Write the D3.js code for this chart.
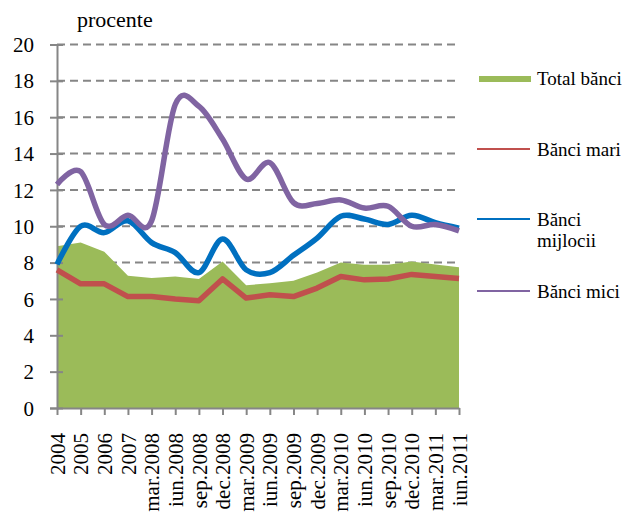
<!DOCTYPE html>
<html>
<head>
<meta charset="utf-8">
<script src="https://cdn.jsdelivr.net/npm/d3@7"></script>
<style>
	body { margin: 0; background: #fff; }
</style>
</head>
<body>
<div id="chart"></div>
<script>
let categories = ['2004', '2005', '2006', '2007', 'mar.2008', 'iun.2008', 'sep.2008', 'dec.2008',
	'mar.2009', 'iun.2009', 'sep.2009', 'dec.2009', 'mar.2010', 'iun.2010', 'sep.2010', 'dec.2010',
	'mar.2011', 'iun.2011'];

let totalBanci = [8.9, 9.1, 8.6, 7.27, 7.15, 7.23, 7.1, 8.06, 6.75, 6.87, 7.0, 7.45, 8.0, 7.88, 7.88, 8.06, 7.9, 7.75];
let banciMari = [7.6, 6.83, 6.83, 6.13, 6.13, 6.0, 5.9, 7.1, 6.05, 6.23, 6.13, 6.6, 7.23, 7.05, 7.1, 7.35, 7.23, 7.12];
let banciMijlocii = [7.9, 10.0, 9.65, 10.3, 9.1, 8.55, 7.45, 9.3, 7.6, 7.45, 8.4, 9.35, 10.55, 10.4, 10.1, 10.6, 10.2, 9.9];
let banciMici = [12.3, 13.0, 10.1, 10.6, 10.3, 16.7, 16.6, 14.8, 12.6, 13.5, 11.3, 11.25, 11.45, 11.0, 11.1, 10.0, 10.1, 9.75];

let yTicks = [0, 2, 4, 6, 8, 10, 12, 14, 16, 18, 20];

let series = [
	{ name: 'Bănci mari', values: banciMari, color: '#C0504D', smooth: false },
	{ name: 'Bănci mijlocii', values: banciMijlocii, color: '#0070C0', smooth: true },
	{ name: 'Bănci mici', values: banciMici, color: '#8064A2', smooth: true }
];

let width = 625;
let height = 515;
let plot = { left: 57, right: 459, top: 44.5, bottom: 408 };
let axisColor = '#868686';
let serif = '"Liberation Serif"';

let svg = d3.select('#chart').append('svg')
	.attr('width', width)
	.attr('height', height);

let x = d3.scalePoint()
	.domain(categories)
	.range([plot.left, plot.right]);

let y = d3.scaleLinear()
	.domain([0, 20])
	.range([plot.bottom, plot.top]);

// grid lines (behind the area)
svg.append('g')
	.selectAll('line')
	.data(yTicks.filter(d => d > 0))
	.enter()
	.append('line')
	.attr('x1', plot.left)
	.attr('x2', plot.right)
	.attr('y1', d => y(d))
	.attr('y2', d => y(d))
	.attr('stroke', axisColor)
	.attr('stroke-width', 2)
	.attr('stroke-dasharray', '8,5');

// total banci area
let area = d3.area()
	.x((d, i) => x(categories[i]))
	.y0(y(0))
	.y1(d => y(d));

svg.append('path')
	.datum(totalBanci)
	.attr('d', area)
	.attr('fill', '#9BBB59');

// y axis
let yAxis = d3.axisLeft(y)
	.tickValues(yTicks)
	.tickSize(7)
	.tickPadding(16);

let gy = svg.append('g')
	.attr('transform', 'translate(' + plot.left + ',0)')
	.call(yAxis);
gy.select('.domain').attr('stroke', axisColor).attr('stroke-width', 2);
gy.selectAll('.tick line')
	.attr('stroke', axisColor)
	.attr('stroke-width', 2)
	.attr('x1', 6);
gy.selectAll('.tick text')
	.attr('font-size', 21)
	.attr('fill', '#000')
	.attr('dy', '0.34em')
	.style('font-family', serif);

// x axis
let xAxis = d3.axisBottom(x)
	.tickSize(7)
	.tickSizeOuter(0);

let gx = svg.append('g')
	.attr('transform', 'translate(0,' + plot.bottom + ')')
	.call(xAxis);
gx.select('.domain').attr('stroke', axisColor).attr('stroke-width', 2);
gx.selectAll('.tick line').attr('stroke', axisColor).attr('stroke-width', 2);
gx.selectAll('.tick text')
	.attr('font-size', 21)
	.attr('fill', '#000')
	.attr('text-anchor', 'end')
	.attr('transform', 'rotate(-90)')
	.attr('x', -25)
	.attr('y', 0)
	.attr('dy', '0.34em')
	.style('font-family', serif);

// lines
series.forEach(s => {
	let line = d3.line()
		.x((d, i) => x(categories[i]))
		.y(d => y(d))
		.curve(s.smooth ? d3.curveCardinal.tension(0) : d3.curveLinear);

	svg.append('path')
		.datum(s.values)
		.attr('d', line)
		.attr('fill', 'none')
		.attr('stroke', s.color)
		.attr('stroke-width', 5.5)
		.attr('stroke-linejoin', 'round');
});

// unit label
svg.append('text')
	.attr('x', 77)
	.attr('y', 27)
	.attr('font-size', 22)
	.style('font-family', serif)
	.text('procente');

// legend
let legend = svg.append('g').attr('class', 'legend');

legend.append('rect')
	.attr('x', 479)
	.attr('y', 76)
	.attr('width', 52)
	.attr('height', 6)
	.attr('fill', '#9BBB59');
legend.append('text')
	.attr('x', 537)
	.attr('y', 85)
	.attr('font-size', 19)
	.style('font-family', serif)
	.text('Total bănci');

let legendItems = [
	{ y: 149, lines: ['Bănci mari'] },
	{ y: 219, lines: ['Bănci', 'mijlocii'] },
	{ y: 291, lines: ['Bănci mici'] }
];

legendItems.forEach((item, i) => {
	legend.append('line')
		.attr('x1', 477)
		.attr('x2', 530)
		.attr('y1', item.y)
		.attr('y2', item.y)
		.attr('stroke', series[i].color)
		.attr('stroke-width', 2);
	item.lines.forEach((t, j) => {
		legend.append('text')
			.attr('x', 537)
			.attr('y', item.y + 7 + j * 21)
			.attr('font-size', 19)
			.style('font-family', serif)
			.text(t);
	});
});
</script>
</body>
</html>
